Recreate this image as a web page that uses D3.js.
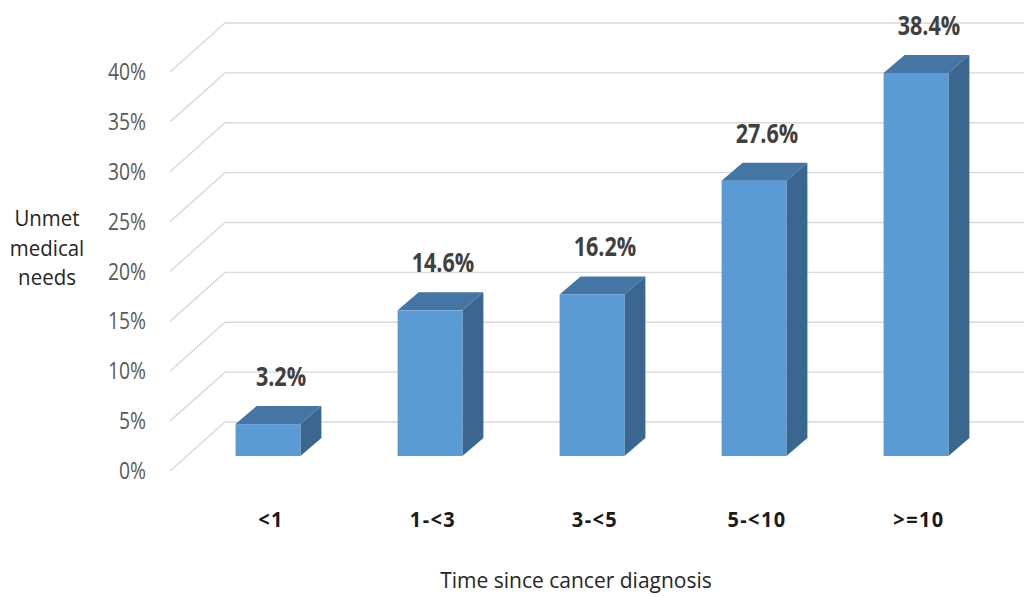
<!DOCTYPE html>
<html>
<head>
<meta charset="utf-8">
<script src="https://cdn.jsdelivr.net/npm/d3@7"></script>
<style>
  html, body { margin: 0; padding: 0; background: #fff; }
  svg { display: block; }
</style>
</head>
<body>
<svg id="chart" width="1024" height="597"></svg>
<script>
// Share of survivors with unmet medical needs by time since diagnosis
const categories = ["<1", "1-<3", "3-<5", "5-<10", ">=10"];
const values = [3.2, 14.6, 16.2, 27.6, 38.4];
const tickValues = [0, 5, 10, 15, 20, 25, 30, 35, 40];
const yTitleLines = ["Unmet", "medical", "needs"];
const xTitle = "Time since cancer diagnosis";

const svg = d3.select("#chart");
const W = 1024;
const FONT = "'Open Sans', 'Noto Sans', sans-serif";

// Text helper: slightly condensed glyphs via a horizontal scale
function label(parent, x, y, txt, opts) {
  const t = parent.append("text")
    .attr("transform", `translate(${x},${y}) scale(${opts.sx || 1},1)`)
    .attr("text-anchor", opts.anchor || "middle")
    .attr("font-family", FONT)
    .attr("font-size", opts.size)
    .attr("font-weight", opts.weight || "normal")
    .attr("fill", opts.fill)
    .text(txt);
  if (opts.ls) t.attr("letter-spacing", opts.ls);
  return t;
}

// Back wall and floor geometry (oblique projection)
const wallLeft = 225, floorDx = 55, floorDy = 49;
const yWall = d3.scaleLinear().domain([0, 40]).range([422, 23]);

// Bar front faces
const barBase = 456;
const yBar = d3.scaleLinear().domain([0, 40]).range([barBase, barBase - (yWall(0) - yWall(40))]);
const x = d3.scaleBand().domain(categories).range([187, 997]).paddingInner(0.6).paddingOuter(0.3);
const depthX = 21, depthY = 18;

const grid = svg.append("g").attr("fill", "none").attr("stroke", "#d9d9d9").attr("stroke-width", 1.4);
tickValues.forEach(v => {
  const yb = yWall(v);
  grid.append("path")
    .attr("d", `M${wallLeft - floorDx},${yb + floorDy}L${wallLeft},${yb}L${W},${yb}`);
});

// Y tick labels at the front edge
const ticks = svg.append("g");
tickValues.forEach(v => {
  label(ticks, 146, yWall(v) + floorDy + 8, v + "%", { size: 23, sx: 0.84, anchor: "end", fill: "#595959" });
});

// 3D bars
const bars = svg.append("g").selectAll("g").data(categories.map((c, i) => ({ c, v: values[i] }))).join("g");
bars.each(function(d) {
  const g = d3.select(this);
  const x0 = x(d.c), x1 = x0 + x.bandwidth();
  const yt = yBar(d.v), yb = yBar(0);
  // top face
  g.append("path")
    .attr("d", `M${x0},${yt}L${x0 + depthX},${yt - depthY}L${x1 + depthX},${yt - depthY}L${x1},${yt}Z`)
    .attr("fill", "#4475a5");
  // side face
  g.append("path")
    .attr("d", `M${x1},${yt}L${x1 + depthX},${yt - depthY}L${x1 + depthX},${yb - depthY}L${x1},${yb}Z`)
    .attr("fill", "#3b6690");
  // front face
  g.append("rect")
    .attr("x", x0).attr("y", yt)
    .attr("width", x.bandwidth()).attr("height", yb - yt)
    .attr("fill", "#5b9bd5");
  // value label
  label(g, x0 + x.bandwidth() / 2 + 13, yt - depthY - 20, d.v.toFixed(1) + "%",
    { size: 26, sx: 0.83, weight: "bold", fill: "#404040" });
});

// Category labels
const cats = svg.append("g");
categories.forEach(c => {
  label(cats, x(c) + x.bandwidth() / 2 + 3, 527, c,
    { size: 21, sx: 0.95, weight: "bold", fill: "#1a1a1a", ls: 1.5 });
});

// Axis titles
label(svg, 576, 588, xTitle, { size: 21, fill: "#262626" });

const yt = svg.append("g");
yTitleLines.forEach((line, i) => {
  label(yt, 47, 226 + i * 29.5, line, { size: 22, sx: 0.93, fill: "#262626" });
});
</script>
</body>
</html>
